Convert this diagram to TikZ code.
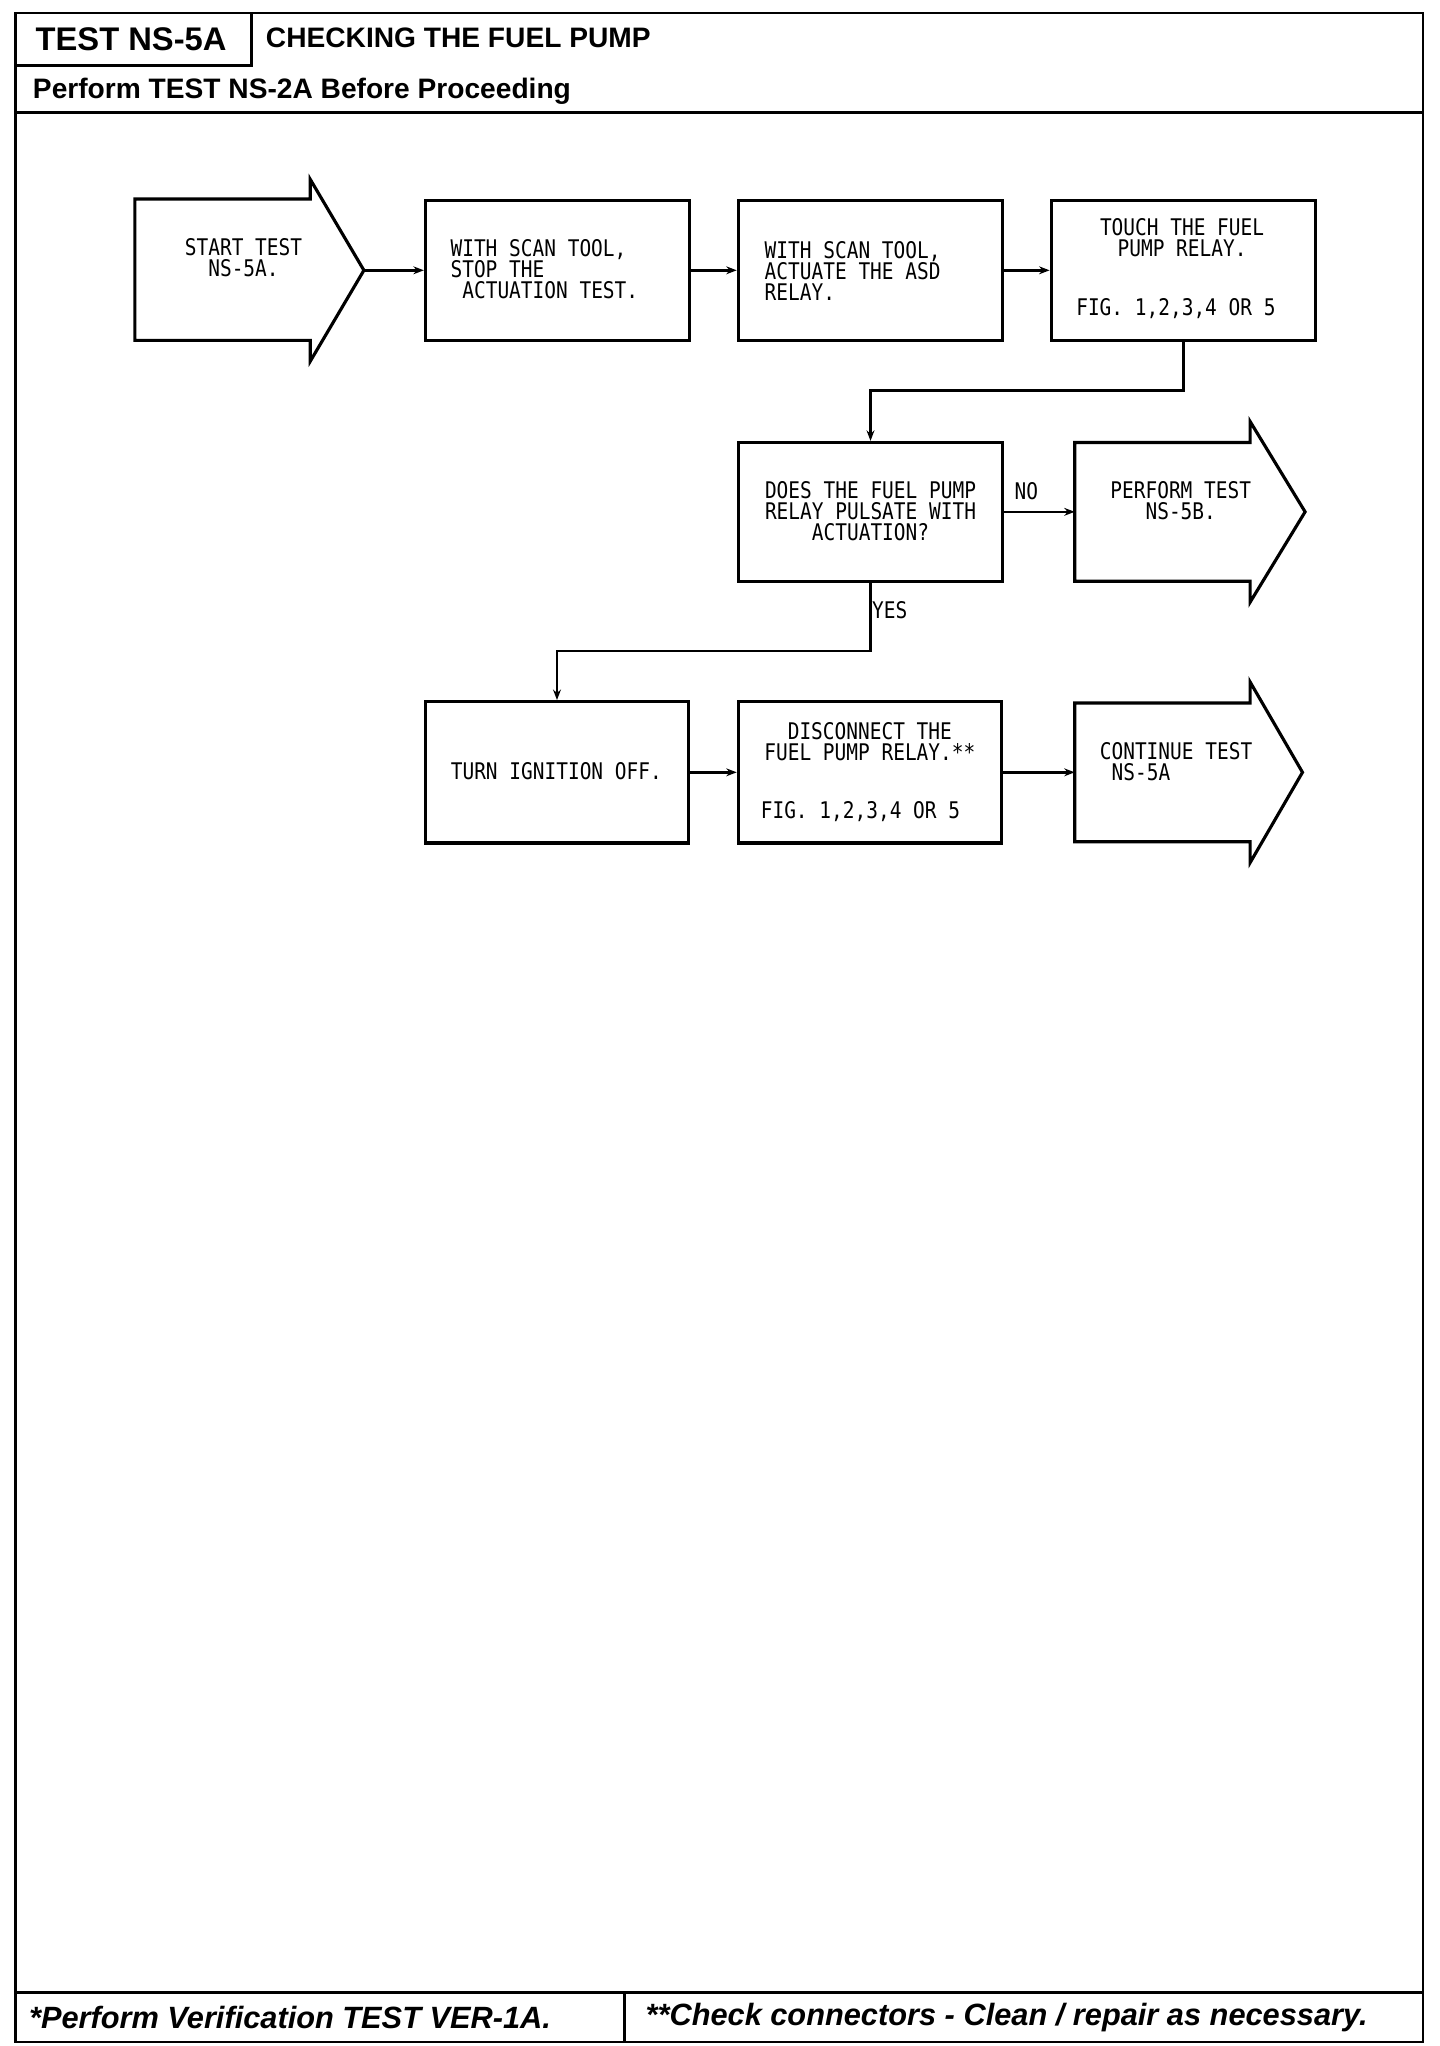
\documentclass[tikz,border=0pt]{standalone}
\usepackage{fontspec}
\setmainfont{Liberation Sans}
\newfontfamily\monofont[FakeStretch=0.85]{DejaVu Sans Mono}
\usetikzlibrary{arrows.meta,calc}
\tikzset{
  frame/.style={line width=2pt, line cap=rect},
  box/.style={draw, line width=2.4pt, inner sep=0pt, minimum width=202pt, minimum height=107pt},
  shapeline/.style={draw, line width=2.4pt, line join=miter},
  conn/.style={line width=2pt, -{Stealth[length=8pt,width=6pt]}},
  txt/.style={font=\monofont\fontsize{17.5}{16}\selectfont, inner sep=0pt},
  ttl/.style={font=\bfseries\fontsize{25}{30}\selectfont, inner sep=0pt, anchor=west},
  sub/.style={font=\bfseries\fontsize{21.5}{25}\selectfont, inner sep=0pt, anchor=west},
  foot/.style={font=\bfseries\itshape\fontsize{23.5}{28}\selectfont, inner sep=0pt, anchor=west}
}
\begin{document}
\begin{tikzpicture}[x=1pt,y=-1pt]
\useasboundingbox (0,0) rectangle (1100,1563);
\fill[white] (0,0) rectangle (1100,1563);
% frame
\draw[frame] (12,10) rectangle (1087,1560);
\draw[frame] (192,10) -- (192,50) -- (12,50);
\draw[frame] (12,86) -- (1087,86);
\draw[frame] (12,1522) -- (1087,1522);
\draw[frame] (477,1522) -- (477,1560);
\node[ttl] (t1) at (27,30) {TEST NS-5A};
\node[sub] (t2) at (203,29) {CHECKING THE FUEL PUMP};
\node[sub] (t3) at (25,70) {Perform TEST NS-2A Before Proceeding};
\node[foot] (f1) at (22,1541) {*Perform Verification TEST VER-1A.};
\node[foot] (f2) at (493,1541) {**Check connectors - Clean / repair as necessary.};
% start arrow
\draw[shapeline] (103,152) -- (237,152) -- (237,137) -- (278,206.5) -- (237,276) -- (237,260) -- (103,260) -- cycle;
\coordinate (s-tip) at (278,206.5);
\node[txt, align=center, anchor=north] (s-txt) at (186,182) {START TEST\\NS-5A.};
% row 1 boxes
\node[box] (b2) at (426,206.5) {};
\node[box] (b3) at (665,206.5) {};
\node[box] (b4) at (904,206.5) {};
\node[txt, align=left, anchor=north west] (b2-txt) at (344,183) {WITH SCAN TOOL,\\STOP THE\\\hspace{9pt}ACTUATION TEST.};
\node[txt, align=left, anchor=north west] (b3-txt) at (584,184) {WITH SCAN TOOL,\\ACTUATE THE ASD\\RELAY.};
\node[txt, align=center, anchor=north] (b4-txt) at (903,167) {TOUCH THE FUEL\\PUMP RELAY.};
\node[txt, anchor=west] (b4-fig) at (822,236) {FIG. 1,2,3,4 OR 5};
% row 2
\node[box, minimum height=106pt] (b5) at (665,391) {};
\node[txt, align=center, anchor=north] (b5-txt) at (665,368) {DOES THE FUEL PUMP\\RELAY PULSATE WITH\\ACTUATION?};
\draw[shapeline] (821,338) -- (955,338) -- (955,322) -- (997,391) -- (955,460) -- (955,444) -- (821,444) -- cycle;
\coordinate (p-in) at (821,391);
\node[txt, align=center, anchor=north] (p-txt) at (902,368) {PERFORM TEST\\NS-5B.};
% row 3
\node[box, minimum width=201pt, minimum height=108pt] (b6) at (425.5,590) {};
\node[box, minimum width=201pt, minimum height=108pt] (b7) at (664.5,590) {};
\node[txt, anchor=center] (b6-txt) at (425,589) {TURN IGNITION OFF.};
\node[txt, align=center, anchor=north] (b7-txt) at (664.5,552) {DISCONNECT THE\\FUEL PUMP RELAY.**};
\node[txt, anchor=west] (b7-fig) at (581,620) {FIG. 1,2,3,4 OR 5};
\draw[shapeline] (821,537) -- (955,537) -- (955,521) -- (995,590) -- (955,659) -- (955,643) -- (821,643) -- cycle;
\coordinate (c-in) at (821,590);
\node[txt, align=left, anchor=north west] (c-txt) at (840,567) {CONTINUE TEST\\\hspace{9pt}NS-5A};
% connectors
\draw[conn] (s-tip) -- (b2.west);
\draw[conn] (b2.east) -- (b3.west);
\draw[conn] (b3.east) -- (b4.west);
\draw[conn] (b4.south) -- ++(0,37) -| (b5.north);
\draw[conn] (b5.east) -- (p-in);
\draw[conn] (b5.south) -- ++(0,52) -| (b6.north);
\draw[conn] (b6.east) -- (b7.west);
\draw[conn] (b7.east) -- (c-in);
\node[txt] (no) at (784,375) {NO};
\node[txt, anchor=west] (yes) at (666,466) {YES};
\end{tikzpicture}
\end{document}
